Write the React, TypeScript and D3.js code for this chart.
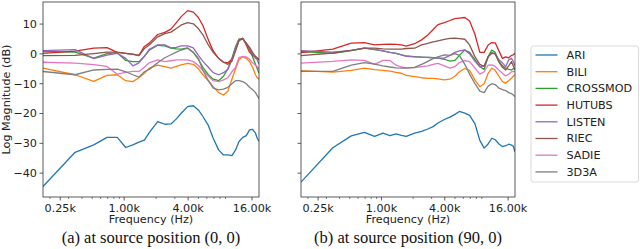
import * as d3 from 'd3';

// FFT bin centres (Hz) used by every curve
const FREQS = [172, 345, 517, 689, 861, 1034, 1206, 1378, 1550, 1723, 2067, 2412, 2756, 3101, 3445, 3962, 4479, 4996, 5513, 6202, 6891, 7752, 8614, 9475, 10336, 11198, 12059, 13093, 14126, 15160, 16193, 17227, 17916, 18605];

const DATASETS = ['ARI', 'BILI', 'CROSSMOD', 'HUTUBS', 'LISTEN', 'RIEC', 'SADIE', '3D3A'];
const COLORS = ['#1f77b4', '#ff7f0e', '#2ca02c', '#d62728', '#9467bd', '#8c564b', '#e377c2', '#7f7f7f'];

// (a) source position (0, 0)
const ariA = [-44.5, -33.0, -30.5, -28.0, -28.0, -31.4, -30.5, -29.6, -28.9, -26.4, -22.7, -23.6, -23.5, -21.8, -19.9, -17.7, -17.4, -18.8, -21.0, -24.0, -28.3, -32.2, -33.9, -33.9, -34.1, -32.2, -29.4, -28.0, -27.4, -25.5, -25.3, -26.6, -28.3, -29.4];
const biliA = [-4.8, -7.0, -9.2, -7.2, -7.0, -9.0, -9.3, -8.0, -6.5, -4.8, -3.8, -4.3, -4.8, -4.2, -3.7, -3.2, -3.5, -5.0, -7.0, -9.0, -11.0, -13.0, -13.8, -12.5, -8.5, -5.0, -2.0, -0.9, -1.5, -2.6, -4.5, -7.0, -8.0, -8.5];
const crossmodA = [0.8, 0.6, -1.4, 0.1, 0.4, -2.2, -2.6, -2.6, -0.8, 1.2, 2.9, 2.7, 1.9, 1.7, 1.6, 2.0, 0.5, -1.8, -4.5, -7.0, -8.5, -9.0, -7.5, -5.0, -1.5, 2.5, 5.0, 5.0, 3.6, 1.5, -1.0, -3.5, -5.0, -6.5];
const hutubsA = [0.2, 0.9, 1.9, 2.1, 0.5, 0.2, -0.1, -0.5, 2.5, 3.6, 6.5, 7.2, 8.3, 10.5, 12.5, 14.5, 14.0, 12.2, 9.5, 4.7, 1.0, -1.5, -2.8, -3.0, -1.8, 1.5, 4.5, 5.3, 3.0, 0.5, -0.5, -1.0, -1.4, -2.0];
const listenA = [1.1, 1.4, -1.6, -0.4, 0.2, -1.5, -4.0, -3.0, -0.8, 1.5, 3.0, 3.0, 2.0, 2.2, 2.7, 2.7, 2.0, -0.5, -2.5, -4.5, -6.3, -7.0, -6.3, -5.2, -2.0, 2.0, 4.8, 5.0, 3.5, 2.0, 0.0, -1.5, -2.0, -3.5];
const riecA = [-0.6, -0.5, 0.1, 0.6, 0.6, 0.2, -0.2, -0.6, 1.8, 3.0, 5.7, 6.8, 7.3, 8.5, 9.7, 10.5, 10.1, 8.5, 6.4, 3.0, 0.5, -1.5, -2.8, -3.5, -2.5, 1.0, 4.5, 5.0, 3.5, 2.2, 0.5, -0.8, -1.5, -2.0];
const sadieA = [-2.8, -3.1, -3.6, -4.2, -6.8, -6.2, -5.9, -5.9, -4.5, -3.0, -2.0, -2.6, -2.3, -2.0, -2.0, -2.0, -2.6, -3.9, -5.5, -7.5, -9.0, -9.3, -8.7, -8.0, -6.0, -4.5, -1.2, -0.9, -1.0, -1.8, -3.0, -3.8, -4.3, -5.0];
const d3aA = [-5.9, -7.0, -5.4, -5.2, -5.1, -6.0, -7.0, -7.8, -6.0, -5.2, -3.0, -1.3, -0.3, 0.6, 1.3, 1.9, 0.5, -1.5, -5.5, -9.0, -11.5, -12.1, -11.8, -11.2, -10.0, -9.0, -9.0, -9.3, -10.0, -11.2, -12.0, -13.0, -14.0, -15.0];

// (b) source position (90, 0)
const ariB = [-43.0, -31.5, -27.5, -26.3, -27.7, -26.6, -27.4, -26.8, -27.3, -27.7, -26.6, -26.0, -25.2, -24.4, -23.2, -22.0, -21.2, -20.3, -19.3, -19.9, -20.6, -23.5, -29.0, -31.6, -30.2, -28.3, -28.8, -30.2, -31.1, -30.8, -30.3, -30.6, -31.0, -32.8];
const biliB = [-5.6, -6.1, -5.5, -4.8, -5.3, -5.5, -5.8, -6.2, -6.5, -7.2, -7.6, -8.0, -8.2, -8.2, -8.4, -8.7, -8.5, -7.5, -6.0, -4.9, -5.5, -8.8, -11.0, -10.0, -6.5, -4.8, -5.5, -7.5, -9.3, -9.8, -9.0, -8.2, -7.5, -7.0];
const crossmodB = [0.8, 0.2, 1.1, 1.9, 1.4, 1.0, 0.5, 0.2, -0.3, -0.7, -0.9, -1.1, -1.2, -1.3, -1.4, -1.8, -2.4, -2.2, -0.5, 1.3, 0.5, -2.0, -4.3, -5.2, -1.0, 1.3, 0.5, -2.5, -4.0, -4.8, -5.2, -5.4, -5.0, -4.8];
const hutubsB = [0.4, 1.6, 3.6, 3.8, 3.0, 3.2, 3.3, 3.2, 3.0, 2.6, 3.4, 4.7, 6.3, 8.2, 9.8, 10.5, 11.2, 11.8, 12.0, 12.2, 11.0, 6.5, 0.5, 0.5, 3.0, 3.8, 3.7, 1.0, -1.5, -1.0, -1.3, -0.5, -0.3, 0.2];
const listenB = [1.1, 0.6, 1.2, 1.9, 1.5, 1.0, 0.5, 0.2, -0.3, -0.8, -1.0, -1.1, -1.2, -1.3, -1.4, -1.4, -0.5, 0.5, 1.0, 1.3, 0.0, -2.5, -4.3, -4.0, -1.0, 0.2, 0.0, -2.0, -3.0, -4.3, -2.0, -1.5, -2.5, -4.0];
const riecB = [-0.6, 0.3, 1.2, 1.9, 1.9, 1.7, 1.6, 1.6, 1.6, 1.8, 1.9, 3.0, 3.5, 4.0, 4.4, 4.9, 5.2, 5.3, 5.1, 4.9, 3.0, -1.0, -3.5, -4.2, -0.9, 0.4, 0.0, -2.8, -4.5, -5.4, -4.0, -2.6, -4.0, -5.4];
const sadieB = [-3.1, -2.5, -2.0, -2.2, -3.5, -2.2, -2.2, -3.8, -4.4, -4.7, -4.6, -4.3, -4.0, -3.5, -3.2, -4.0, -4.8, -4.3, -2.9, -2.3, -2.6, -4.8, -6.8, -6.0, -3.8, -3.7, -4.2, -5.5, -6.5, -7.4, -6.8, -6.0, -5.9, -6.0];
const d3aB = [-5.9, -5.9, -3.8, -2.9, -3.4, -4.0, -4.4, -4.7, -4.8, -4.8, -4.5, -3.5, -2.5, -1.6, -1.0, -0.3, -0.5, 0.1, -0.5, -3.5, -6.8, -10.0, -12.5, -13.0, -10.8, -10.0, -10.3, -11.5, -12.0, -12.3, -13.0, -13.3, -13.8, -14.3];

const PANEL_A = [ariA, biliA, crossmodA, hutubsA, listenA, riecA, sadieA, d3aA];
const PANEL_B = [ariB, biliB, crossmodB, hutubsB, listenB, riecB, sadieB, d3aB];

const X_TICKS = [250, 1000, 4000, 16000];
const X_TICK_LABELS = ['0.25k', '1.00k', '4.00k', '16.00k'];
const X_MINOR = [200, 300, 400, 500, 600, 700, 800, 900, 2000, 3000, 5000, 6000, 7000, 8000, 9000];
const Y_TICKS = [10, 0, -10, -20, -30, -40];

const FONT = 'DejaVu Sans, sans-serif';
const FS = 11.2;
const TOP = 2;
const BOTTOM = 197;

function Panel({ x0, x1, series, showYLabels, caption }: {
  x0: number; x1: number; series: number[][]; showYLabels: boolean; caption: string;
}) {
  const x = d3.scaleLog().domain([172, 18605]).range([x0, x1]);
  const y = d3.scaleLinear().domain([-48.0, 17.4]).range([BOTTOM, TOP]);
  const line = d3.line<number>()
    .x((_, i) => x(FREQS[i]))
    .y(d => y(d));
  const cx = (x0 + x1) / 2;

  return (
    <g>
      <defs>
        <clipPath id={`clip-${x0}`}>
          <rect x={x0} y={TOP} width={x1 - x0} height={BOTTOM - TOP} />
        </clipPath>
      </defs>
      <g clipPath={`url(#clip-${x0})`}>
        {series.map((s, i) => (
          <path key={i} d={line(s) || ''} fill="none" stroke={COLORS[i]} strokeWidth={1.3} strokeLinejoin="round" />
        ))}
      </g>
      <rect x={x0} y={TOP} width={x1 - x0} height={BOTTOM - TOP} fill="none" stroke="#333" strokeWidth={0.8} />
      {Y_TICKS.map(t => (
        <g key={t}>
          <line x1={x0 - 3.5} x2={x0} y1={y(t)} y2={y(t)} stroke="#333" strokeWidth={0.8} />
          {showYLabels && (
            <text x={x0 - 6} y={y(t)} dy="0.35em" textAnchor="end" fontSize={FS} fontFamily={FONT} fill="#222">
              {t < 0 ? `\u2212${-t}` : t}
            </text>
          )}
        </g>
      ))}
      {X_MINOR.map(t => (
        <line key={t} x1={x(t)} x2={x(t)} y1={BOTTOM} y2={BOTTOM + 2} stroke="#333" strokeWidth={0.6} />
      ))}
      {X_TICKS.map((t, i) => (
        <g key={t}>
          <line x1={x(t)} x2={x(t)} y1={BOTTOM} y2={BOTTOM + 3.5} stroke="#333" strokeWidth={0.8} />
          <text x={x(t)} y={211.5} textAnchor="middle" fontSize={FS} fontFamily={FONT} fill="#222">
            {X_TICK_LABELS[i]}
          </text>
        </g>
      ))}
      <text x={cx} y={223} textAnchor="middle" fontSize={FS} fontFamily={FONT} fill="#222">Frequency (Hz)</text>
      <text x={cx} y={243} textAnchor="middle" fontSize={16.5} fontFamily="Liberation Serif, serif" fill="#111">{caption}</text>
    </g>
  );
}

export default function App() {
  return (
    <svg width={640} height={249} style={{ position: 'absolute', left: 0, top: 0, background: '#fff' }}>
      <rect width={640} height={249} fill="#fff" />
      <text transform="translate(10,99.5) rotate(-90)" textAnchor="middle" fontSize={FS} fontFamily={FONT} fill="#222">
        Log Magnitude (dB)
      </text>
      <Panel x0={43} x1={259} series={PANEL_A} showYLabels={true} caption="(a) at source position (0, 0)" />
      <Panel x0={301} x1={515} series={PANEL_B} showYLabels={false} caption="(b) at source position (90, 0)" />
      <rect x={531} y={46} width={107.5} height={136} rx={2.5} fill="#fff" stroke="#d0d0d0" strokeWidth={0.8} />
      {DATASETS.map((name, i) => (
        <g key={name} transform={`translate(0,${55 + i * 16.7})`}>
          <line x1={535.5} x2={557.5} y1={0} y2={0} stroke={COLORS[i]} strokeWidth={1.3} />
          <text x={566.5} y={0} dy="0.35em" fontSize={FS} fontFamily={FONT} fill="#222">{name}</text>
        </g>
      ))}
    </svg>
  );
}
